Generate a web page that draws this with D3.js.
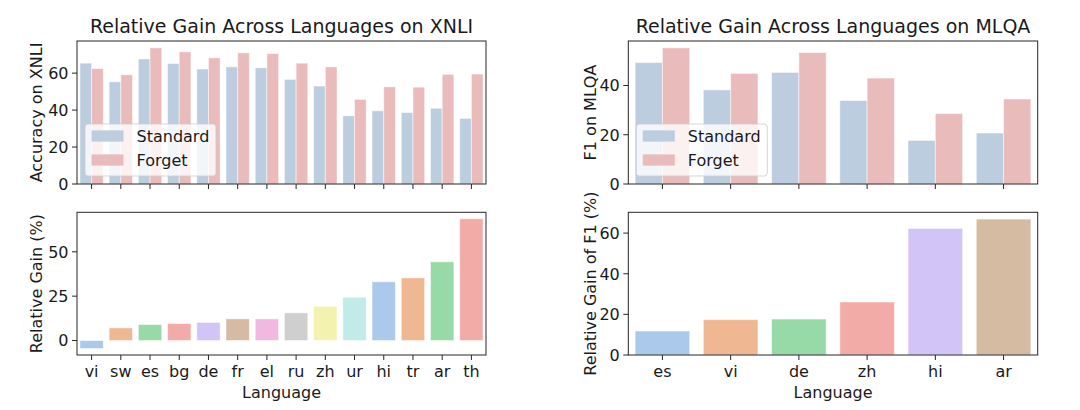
<!DOCTYPE html>
<html>
<head>
<meta charset="utf-8">
<script src="https://cdn.jsdelivr.net/npm/d3@7"></script>
<style>
  html, body { margin: 0; padding: 0; background: #fff; }
  svg { display: block; font-family: "DejaVu Sans", sans-serif; }
</style>
</head>
<body>
<svg id="chart" width="1080" height="410"></svg>
<script>
// ---------------- DATA ----------------
const xnliLangs = ["vi","sw","es","bg","de","fr","el","ru","zh","ur","hi","tr","ar","th"];
const xnliStandard = [65.4, 55.3, 67.7, 65.2, 62.2, 63.4, 62.9, 56.6, 53.0, 36.9, 39.6, 38.7, 41.0, 35.5];
const xnliForget   = [62.5, 59.1, 73.7, 71.5, 68.3, 71.0, 70.6, 65.4, 63.4, 45.8, 52.6, 52.4, 59.3, 59.5];
const xnliGain     = [-4.5, 7.1, 9.0, 9.6, 10.2, 12.2, 12.2, 15.6, 19.2, 24.4, 33.1, 35.3, 44.4, 68.6];

const mlqaLangs = ["es","vi","de","zh","hi","ar"];
const mlqaStandard = [49.3, 38.2, 45.3, 33.9, 17.7, 20.7];
const mlqaForget   = [55.3, 44.9, 53.4, 43.0, 28.6, 34.5];
const mlqaGain     = [11.8, 17.4, 17.7, 26.1, 62.3, 66.9];

const seriesNames = ["Standard", "Forget"];
const xnliTopTicks = [0, 20, 40, 60];
const xnliBottomTicks = [0, 25, 50];
const mlqaTopTicks = [0, 20, 40];
const mlqaBottomTicks = [0, 20, 40, 60];

const titles = ["Relative Gain Across Languages on XNLI", "Relative Gain Across Languages on MLQA"];
const yLabels = ["Accuracy on XNLI", "Relative Gain (%)", "F1 on MLQA", "Relative Gain of F1 (%)"];
const xLabel = "Language";

// ---------------- STYLE ----------------
const seriesColors = ["#bccde0", "#e9bbbb"];
const pastel = ["#a1c9f4","#ffb482","#8de5a1","#ff9f9b","#d0bbff","#debb9b","#fab0e4","#cfcfcf","#fffea3","#b9f2f0"];
function desat(c, p) { const h = d3.hsl(c); h.s *= p; return h.formatHex(); }
const pastelD = pastel.map(c => desat(c, 0.75));

const svg = d3.select("#chart");
const FS = 16;
const textColor = "#1a1a1a";
const frameColor = "#262626";

const panels = {
  left:  { x0: 77, x1: 486 },
  right: { x0: 628.3, x1: 1037.7 }
};
const rows = { top: { y0: 41, y1: 184 }, bottom: { y0: 212.3, y1: 355 } };

function yDomain(vals) {
  const mn = Math.min(0, d3.min(vals)), mx = Math.max(0, d3.max(vals));
  const span = mx - mn;
  return [mn < 0 ? mn - 0.05 * span : 0, mx + 0.05 * span];
}

function drawAxes(g, x, y, ticks, x0, x1, y0, y1, showXLabels, yLabel, yLabelX) {
  // y ticks
  ticks.forEach(t => {
    g.append("line").attr("x1", x0 - 5).attr("x2", x0).attr("y1", y(t)).attr("y2", y(t))
      .attr("stroke", frameColor).attr("stroke-width", 1);
    g.append("text").attr("x", x0 - 8.5).attr("y", y(t)).attr("dy", "0.36em")
      .attr("text-anchor", "end").attr("font-size", FS).attr("fill", textColor).text(t);
  });
  // x ticks
  x.domain().forEach(c => {
    const cx = x(c) + x.bandwidth() / 2;
    g.append("line").attr("x1", cx).attr("x2", cx).attr("y1", y1).attr("y2", y1 + 5)
      .attr("stroke", frameColor).attr("stroke-width", 1);
    if (showXLabels) {
      g.append("text").attr("x", cx).attr("y", 377).attr("text-anchor", "middle")
        .attr("font-size", FS).attr("fill", textColor).text(c);
    }
  });
  // frame
  g.append("rect").attr("x", x0).attr("y", y0).attr("width", x1 - x0).attr("height", y1 - y0)
    .attr("fill", "none").attr("stroke", frameColor).attr("stroke-width", 1);
  // y label
  const cy = (y0 + y1) / 2;
  g.append("text").attr("transform", `translate(${yLabelX},${cy}) rotate(-90)`)
    .attr("text-anchor", "middle").attr("font-size", FS).attr("fill", textColor).text(yLabel);
  if (showXLabels) {
    g.append("text").attr("x", (x0 + x1) / 2).attr("y", 397.5).attr("text-anchor", "middle")
      .attr("font-size", FS).attr("fill", textColor).text(xLabel);
  }
}

function groupedPanel(p, langs, std, fgt, ticks, title, yLabel, yLabelX) {
  const { x0, x1 } = p; const { y0, y1 } = rows.top;
  const g = svg.append("g");
  const x = d3.scaleBand().domain(langs).range([x0, x1]).paddingInner(0.2).paddingOuter(0.1);
  const xs = d3.scaleBand().domain(seriesNames).range([0, x.bandwidth()]);
  const y = d3.scaleLinear().domain(yDomain(std.concat(fgt))).range([y1, y0]);
  const data = langs.map((l, i) => ({ l, v: [std[i], fgt[i]] }));
  seriesNames.forEach((s, si) => {
    g.selectAll(null).data(data).join("rect")
      .attr("x", d => x(d.l) + xs(s))
      .attr("width", xs.bandwidth())
      .attr("y", d => y(Math.max(0, d.v[si])))
      .attr("height", d => Math.abs(y(d.v[si]) - y(0)))
      .attr("fill", seriesColors[si])
      .attr("stroke", "#ffffff").attr("stroke-opacity", 0.5).attr("stroke-width", 1);
  });
  drawAxes(g, x, y, ticks, x0, x1, y0, y1, false, yLabel, yLabelX);
  // title
  g.append("text").attr("x", (x0 + x1) / 2).attr("y", 33).attr("text-anchor", "middle")
    .attr("font-size", 19).attr("fill", textColor).text(title);
  // legend
  const lg = g.append("g");
  const bx = x0 + 8, bw = 131, bh = 52, by = y1 - 8 - bh;
  lg.append("rect").attr("x", bx).attr("y", by).attr("width", bw).attr("height", bh)
    .attr("rx", 3).attr("fill", "#ffffff").attr("fill-opacity", 0.8)
    .attr("stroke", "#cccccc").attr("stroke-opacity", 0.8).attr("stroke-width", 1);
  seriesNames.forEach((s, si) => {
    const cy = by + 12 + si * 24;
    lg.append("rect").attr("x", bx + 6.5).attr("y", cy - 5.6).attr("width", 32).attr("height", 11.2)
      .attr("fill", seriesColors[si]);
    lg.append("text").attr("x", bx + 51.5).attr("y", cy).attr("dy", "0.36em")
      .attr("font-size", FS).attr("fill", textColor).text(s);
  });
}

function gainPanel(p, langs, gain, ticks, yLabel, yLabelX) {
  const { x0, x1 } = p; const { y0, y1 } = rows.bottom;
  const g = svg.append("g");
  const x = d3.scaleBand().domain(langs).range([x0, x1]).paddingInner(0.2).paddingOuter(0.1);
  const y = d3.scaleLinear().domain(yDomain(gain)).range([y1, y0]);
  const data = langs.map((l, i) => ({ l, v: gain[i], c: pastelD[i % pastelD.length] }));
  g.selectAll(null).data(data).join("rect")
    .attr("x", d => x(d.l))
    .attr("width", x.bandwidth())
    .attr("y", d => y(Math.max(0, d.v)))
    .attr("height", d => Math.abs(y(d.v) - y(0)))
    .attr("fill", d => d.c)
    .attr("stroke", "#ffffff").attr("stroke-opacity", 0.5).attr("stroke-width", 1);
  drawAxes(g, x, y, ticks, x0, x1, y0, y1, true, yLabel, yLabelX);
}

groupedPanel(panels.left, xnliLangs, xnliStandard, xnliForget, xnliTopTicks, titles[0], yLabels[0], 42);
gainPanel(panels.left, xnliLangs, xnliGain, xnliBottomTicks, yLabels[1], 42);
groupedPanel(panels.right, mlqaLangs, mlqaStandard, mlqaForget, mlqaTopTicks, titles[1], yLabels[2], 596);
gainPanel(panels.right, mlqaLangs, mlqaGain, mlqaBottomTicks, yLabels[3], 596);
</script>
</body>
</html>
